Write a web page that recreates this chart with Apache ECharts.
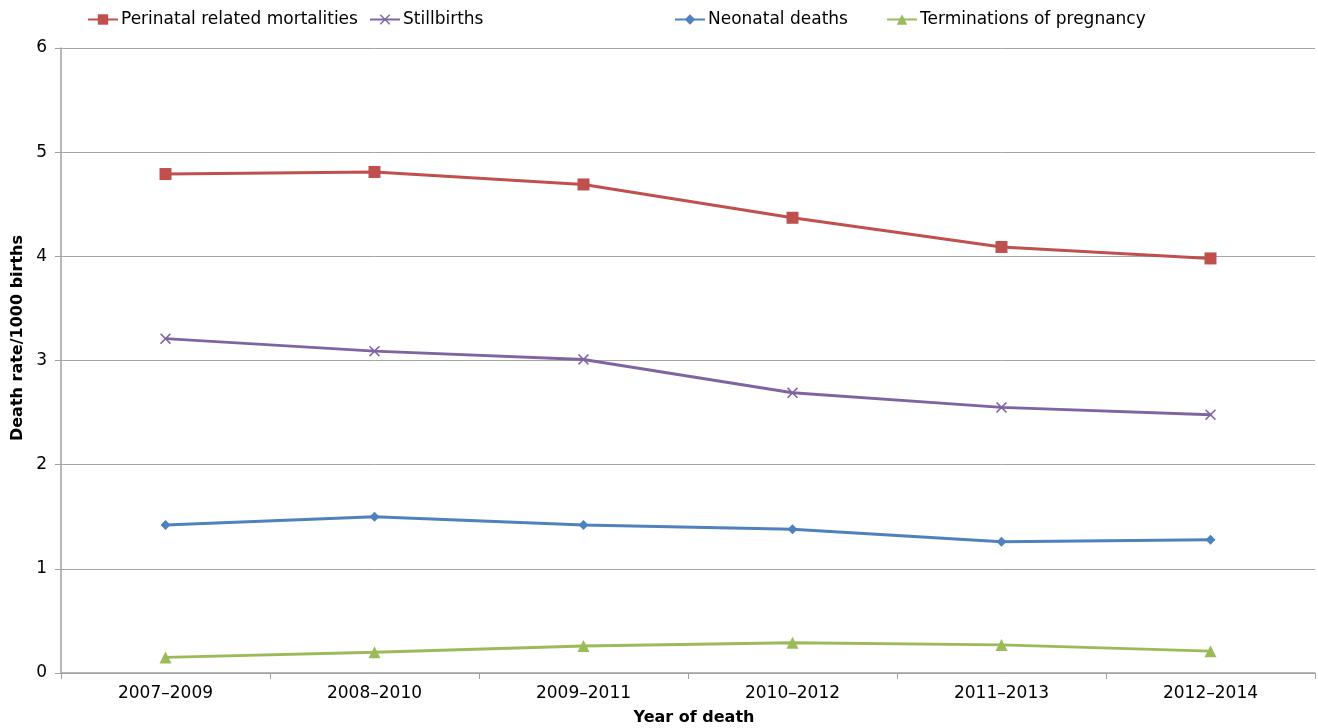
<!DOCTYPE html>
<html><head><meta charset="utf-8">
<script src="https://cdn.jsdelivr.net/npm/echarts@6/dist/echarts.min.js"></script>
<style>html,body{margin:0;padding:0;background:#fff}#c{width:1318px;height:728px}</style>
</head><body><div id="c"></div>
<script>
const categories = ['2007–2009','2008–2010','2009–2011','2010–2012','2011–2013','2012–2014'];
const perinatal = [4.79, 4.81, 4.69, 4.37, 4.09, 3.98];
const stillbirths = [3.21, 3.09, 3.01, 2.69, 2.55, 2.48];
const neonatal = [1.42, 1.50, 1.42, 1.38, 1.26, 1.28];
const terminations = [0.15, 0.20, 0.26, 0.29, 0.27, 0.21];
const yTicks = [0,1,2,3,4,5,6];
const xTitle = 'Year of death';
const yTitle = 'Death rate/1000 births';

const font = '"DejaVu Sans", sans-serif';
const xPath = 'path://M0,1L1,0L5,4L9,0L10,1L6,5L10,9L9,10L5,6L1,10L0,9L4,5Z';
const names = ['Perinatal related mortalities','Stillbirths','Neonatal deaths','Terminations of pregnancy'];
const colors = ['#C0504D','#8064A2','#4F81BD','#9BBB59'];
const symbols = ['rect', xPath, 'diamond', 'triangle'];
const sizes = [12, 11, 10, 12];
const data = [perinatal, stillbirths, neonatal, terminations];
const legendLeft = [87, 369, 674, 886];

const chart = echarts.init(document.getElementById('c'), null, {renderer:'canvas'});
chart.setOption({
  animation:false,
  textStyle:{fontFamily:font},
  legend: names.map((n,i)=>({
    data:[n], left:legendLeft[i], top:11, padding:0, itemWidth:30, itemHeight:13, itemGap:0,
    textStyle:{fontFamily:font, fontSize:17, color:'#000', padding:[0,0,0,-2]}
  })),
  grid:{left:61, right:3, top:48, bottom:55, containLabel:false, outerBoundsMode:'none'},
  graphic:[
    {type:'text', x:694, y:718, style:{text:xTitle, font:'bold 16px "DejaVu Sans", sans-serif', fill:'#000', align:'center', verticalAlign:'middle'}},
    {type:'text', x:18, y:338, rotation:Math.PI/2, style:{text:yTitle, font:'bold 16px "DejaVu Sans", sans-serif', fill:'#000', align:'center', verticalAlign:'middle'}}
  ],
  xAxis:{
    type:'category', data:categories, boundaryGap:true,
    axisLine:{lineStyle:{color:'#A0A0A0', width:1.5}},
    axisTick:{show:true, length:6, lineStyle:{color:'#A0A0A0'}, alignWithLabel:false},
    axisLabel:{fontFamily:font, fontSize:17, color:'#000', margin:12}
  },
  yAxis:{
    type:'value', min:0, max:6, interval:1,
    axisLine:{show:true, lineStyle:{color:'#A0A0A0', width:1.5}},
    axisTick:{show:true, length:6, lineStyle:{color:'#A0A0A0'}},
    axisLabel:{fontFamily:font, fontSize:17, color:'#000', margin:14,
      formatter:v=>yTicks.includes(v)?String(v):''},
    splitLine:{show:true, lineStyle:{color:'#A6A6A6', width:1}}
  },
  series: names.map((n,i)=>({
    name:n, type:'line', data:data[i],
    symbol:symbols[i], symbolSize:sizes[i], showSymbol:true,
    lineStyle:{color:colors[i], width:3},
    itemStyle:{color:colors[i]},
    z: 10-i
  }))
});
</script></body></html>
